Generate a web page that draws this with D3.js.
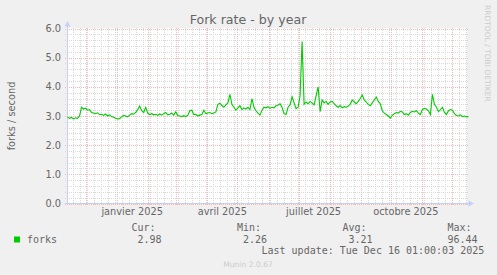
<!DOCTYPE html>
<html>
<head>
<meta charset="utf-8">
<script src="https://cdn.jsdelivr.net/npm/d3@7"></script>
<style>
  html, body { margin: 0; padding: 0; background: #f0f0f0; }
  svg { display: block; }
</style>
</head>
<body>
<script>
// forks/s, one reading every 2 days starting 12 Nov 2024
const forkValues = [
  2.97, 2.92, 2.95, 2.90, 2.94, 2.92, 3.00, 3.30, 3.24, 3.27,
  3.20, 3.22, 3.12, 3.10, 3.08, 3.11, 3.05, 3.06, 3.02, 3.07,
  3.00, 3.04, 2.98, 2.96, 2.92, 2.90, 2.91, 2.97, 3.02, 3.00,
  2.97, 3.03, 3.08, 3.06, 3.12, 3.22, 3.34, 3.18, 3.12, 3.30,
  3.10, 3.05, 3.08, 3.04, 3.06, 3.02, 3.07, 3.03, 3.08, 3.12,
  3.04, 3.06, 3.10, 3.03, 3.14, 3.02, 3.00, 2.98, 3.01, 2.98,
  3.02, 3.18, 3.20, 3.05, 3.06, 3.00, 3.03, 3.05, 3.20, 3.08,
  3.10, 3.12, 3.08, 3.10, 3.14, 3.40, 3.44, 3.36, 3.30, 3.38,
  3.45, 3.74, 3.40, 3.30, 3.20, 3.28, 3.35, 3.22, 3.28, 3.24,
  3.30, 3.22, 3.60, 3.30, 3.18, 3.10, 3.03, 3.20, 3.30, 3.28,
  3.32, 3.26, 3.30, 3.28, 3.35, 3.38, 3.42, 3.30, 3.08, 3.05,
  3.30, 3.38, 3.66, 3.45, 3.25, 3.30, 3.70, 5.55, 3.40, 3.48,
  3.42, 3.50, 3.44, 3.38, 3.70, 4.00, 3.15, 3.55, 3.45, 3.50,
  3.40, 3.48, 3.50, 3.42, 3.35, 3.30, 3.36, 3.28, 3.32, 3.30,
  3.34, 3.40, 3.55, 3.48, 3.42, 3.50, 3.60, 3.72, 3.55, 3.48,
  3.40, 3.35, 3.45, 3.55, 3.65, 3.50, 3.42, 3.18, 3.10, 3.05,
  3.00, 2.93, 3.02, 3.08, 3.12, 3.10, 3.16, 3.14, 3.05, 3.08,
  3.03, 3.12, 3.16, 3.14, 3.18, 3.10, 3.05, 3.22, 3.26, 3.24,
  3.18, 3.05, 3.74, 3.40, 3.30, 3.15, 3.22, 3.30, 3.12, 3.05,
  3.18, 3.22, 3.20, 3.08, 3.02, 3.00, 3.04, 2.98, 3.00, 2.97,
  2.98
];
const seriesStart = Date.UTC(2024, 10, 12, 12);
const stepDays = 2;

const monthLabels = ["janvier 2025", "avril 2025", "juillet 2025", "octobre 2025"];
const monthLabelDates = [Date.UTC(2025, 0, 16), Date.UTC(2025, 3, 16), Date.UTC(2025, 6, 16), Date.UTC(2025, 9, 16)];
const yTicks = [0, 1, 2, 3, 4, 5, 6];

const legendHeads = ["Cur:", "Min:", "Avg:", "Max:"];
const legendValues = ["2.98", "2.26", "3.21", "96.44"];

const width = 497, height = 275;
const plotLeft = 67, plotRight = 467, plotTop = 28, plotBottom = 203;

const svg = d3.select("body").append("svg")
  .attr("width", width)
  .attr("height", height);

svg.append("rect").attr("width", width).attr("height", height).attr("fill", "#f0f0f0");
svg.append("rect")
  .attr("x", plotLeft).attr("y", plotTop)
  .attr("width", plotRight - plotLeft).attr("height", plotBottom - plotTop)
  .attr("fill", "#ffffff");

const x = d3.scaleUtc()
  .domain([new Date(Date.UTC(2024, 10, 12, 12)), new Date(Date.UTC(2025, 11, 15, 12))])
  .range([plotLeft + 0.5, plotRight - 0.5]);
const y = d3.scaleLinear().domain([0, 6]).range([plotBottom + 0.5, plotTop + 0.5]);

const grid = svg.append("g").attr("shape-rendering", "crispEdges");
const minorColor = "#d9d9d9";
const majorColor = "#f7b8b8";

// minor grid
const minorY = d3.range(0, 6.01, 0.2).filter(v => Math.abs(v - Math.round(v)) > 0.01);
grid.selectAll(".hminor").data(minorY).enter().append("line")
  .attr("x1", plotLeft - 2).attr("x2", plotRight + 2)
  .attr("y1", d => Math.round(y(d)) + 0.5).attr("y2", d => Math.round(y(d)) + 0.5)
  .attr("stroke", minorColor).attr("stroke-dasharray", "1,1");

const weeks = d3.utcMonday.range(x.domain()[0], x.domain()[1]);
grid.selectAll(".vminor").data(weeks).enter().append("line")
  .attr("x1", d => Math.round(x(d)) + 0.5).attr("x2", d => Math.round(x(d)) + 0.5)
  .attr("y1", plotTop).attr("y2", plotBottom + 2)
  .attr("stroke", minorColor).attr("stroke-dasharray", "1,1");

// major grid
grid.selectAll(".hmajor").data(yTicks).enter().append("line")
  .attr("x1", plotLeft - 2).attr("x2", plotRight + 2)
  .attr("y1", d => Math.round(y(d)) + 0.5).attr("y2", d => Math.round(y(d)) + 0.5)
  .attr("stroke", majorColor).attr("stroke-dasharray", "1,1");

const months = d3.utcMonth.range(x.domain()[0], x.domain()[1]);
grid.selectAll(".vmajor").data(months).enter().append("line")
  .attr("x1", d => Math.round(x(d)) + 0.5).attr("x2", d => Math.round(x(d)) + 0.5)
  .attr("y1", plotTop).attr("y2", plotBottom + 3)
  .attr("stroke", majorColor).attr("stroke-dasharray", "1,1");

// axes
const axisColor = "#c6cff7";
svg.append("line")
  .attr("x1", plotLeft - 2).attr("x2", plotRight + 2)
  .attr("y1", plotBottom + 0.5).attr("y2", plotBottom + 0.5)
  .attr("stroke", axisColor).attr("shape-rendering", "crispEdges");
svg.append("line")
  .attr("x1", plotLeft + 0.5).attr("x2", plotLeft + 0.5)
  .attr("y1", plotBottom + 2).attr("y2", plotTop - 2)
  .attr("stroke", axisColor).attr("shape-rendering", "crispEdges");
svg.append("path")
  .attr("d", `M${plotLeft + 0.5},${plotTop - 7} L${plotLeft - 2.5},${plotTop - 1.5} L${plotLeft + 3.5},${plotTop - 1.5} Z`)
  .attr("fill", axisColor);
svg.append("path")
  .attr("d", `M${plotRight + 7},${plotBottom + 0.5} L${plotRight + 1.5},${plotBottom - 2.5} L${plotRight + 1.5},${plotBottom + 3.5} Z`)
  .attr("fill", axisColor);

// the series
const line = d3.line()
  .x((d, i) => x(new Date(seriesStart + i * stepDays * 86400000)))
  .y(d => y(d));
svg.append("path")
  .datum(forkValues)
  .attr("fill", "none")
  .attr("stroke", "#00cc00")
  .attr("stroke-width", 1.1)
  .attr("d", line);

// texts
const sans = "'DejaVu Sans', sans-serif";
const mono = "'DejaVu Sans Mono', monospace";
const fontColor = "#666666";

svg.append("text")
  .attr("x", 248).attr("y", 24)
  .attr("text-anchor", "middle")
  .attr("font-family", sans).attr("font-size", "12.6px")
  .attr("fill", fontColor)
  .text("Fork rate - by year");

svg.selectAll(".ylab").data(yTicks).enter().append("text")
  .attr("x", 61).attr("y", d => y(d) + 3.6)
  .attr("text-anchor", "end")
  .attr("font-family", sans).attr("font-size", "9.8px")
  .attr("fill", fontColor)
  .text(d => d.toFixed(1));

svg.selectAll(".xlab").data(monthLabels).enter().append("text")
  .attr("x", (d, i) => x(new Date(monthLabelDates[i])))
  .attr("y", 214.5)
  .attr("text-anchor", "middle")
  .attr("font-family", sans).attr("font-size", "9.8px")
  .attr("fill", fontColor)
  .text(d => d);

svg.append("text")
  .attr("transform", "translate(15,116) rotate(-90)")
  .attr("text-anchor", "middle")
  .attr("font-family", sans).attr("font-size", "9.8px")
  .attr("fill", fontColor)
  .text("forks / second");

svg.append("text")
  .attr("transform", "translate(485,5) rotate(90)")
  .attr("text-anchor", "start")
  .attr("font-family", sans).attr("font-size", "7.5px")
  .attr("fill", "#cccccc")
  .text("RRDTOOL / TOBI OETIKER");

// legend
svg.append("rect")
  .attr("x", 14).attr("y", 236.5).attr("width", 6).attr("height", 6)
  .attr("fill", "#00cc00");
svg.append("text")
  .attr("x", 27).attr("y", 243)
  .attr("font-family", mono).attr("font-size", "10px")
  .attr("fill", fontColor)
  .text("forks");

const colEnds = [155.5, 261, 366.5, 471.5];
svg.selectAll(".lhead").data(legendHeads).enter().append("text")
  .attr("x", (d, i) => colEnds[i]).attr("y", 231)
  .attr("text-anchor", "end")
  .attr("font-family", mono).attr("font-size", "10px")
  .attr("fill", fontColor)
  .text(d => d);
svg.selectAll(".lval").data(legendValues).enter().append("text")
  .attr("x", (d, i) => colEnds[i] + 6).attr("y", 243)
  .attr("text-anchor", "end")
  .attr("font-family", mono).attr("font-size", "10px")
  .attr("fill", fontColor)
  .text(d => d);

svg.append("text")
  .attr("x", 261.5).attr("y", 253.5)
  .attr("font-family", mono).attr("font-size", "10px")
  .attr("fill", fontColor)
  .text("Last update: Tue Dec 16 01:00:03 2025");

svg.append("text")
  .attr("x", 248).attr("y", 267)
  .attr("text-anchor", "middle")
  .attr("font-family", sans).attr("font-size", "7.6px")
  .attr("fill", "#cccccc")
  .text("Munin 2.0.67");
</script>
</body>
</html>
